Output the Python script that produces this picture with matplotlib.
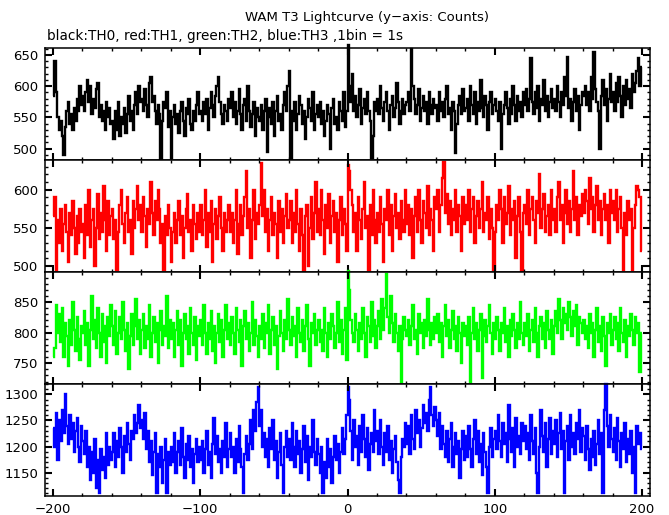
import numpy as np
import matplotlib
matplotlib.use("Agg")
import matplotlib.pyplot as plt
from matplotlib.ticker import MultipleLocator

# bordas dos bins (1 bin = 1 s)
tempo = np.arange(-200, 201)

# contagens, 20 bins por linha
th0 = [
    585, 640, 590, 550, 530, 545, 520, 490, 535, 560, 575, 540, 555, 530, 565, 545, 580, 560, 600, 570,
    585, 560, 590, 610, 575, 600, 555, 580, 565, 595, 605, 550, 570, 545, 560, 530, 575, 550, 565, 540,
    545, 515, 560, 530, 575, 520, 550, 540, 565, 525, 555, 585, 545, 560, 530, 570, 590, 555, 600, 575,
    580, 560, 595, 570, 550, 605, 615, 575, 585, 560, 540, 570, 555, 483, 545, 575, 565, 590, 535, 560,
    485, 550, 570, 540, 555, 525, 560, 575, 545, 520, 565, 555, 580, 540, 530, 560, 545, 570, 590, 555,
    560, 545, 575, 555, 580, 530, 565, 590, 570, 550, 585, 600, 615, 575, 555, 540, 570, 560, 545, 580,
    565, 590, 550, 575, 540, 560, 595, 555, 530, 570, 580, 545, 600, 560, 535, 555, 575, 520, 565, 550,
    545, 570, 530, 560, 580, 495, 550, 565, 540, 575, 520, 560, 585, 545, 555, 530, 570, 590, 560, 600,
    625, 482, 560, 545, 575, 530, 555, 585, 570, 540, 560, 515, 550, 580, 565, 545, 590, 530, 555, 570,
    550, 575, 540, 560, 520, 545, 570, 555, 500, 565, 580, 540, 550, 530, 575, 560, 545, 590, 535, 560,
    665, 600, 575, 620, 560, 585, 550, 570, 595, 540, 565, 580, 555, 590, 560, 545, 485, 520, 575, 560,
    580, 555, 600, 565, 545, 575, 590, 560, 530, 570, 585, 550, 565, 605, 575, 540, 560, 580, 555, 570,
    575, 590, 560, 660, 600, 580, 555, 570, 595, 545, 565, 585, 560, 575, 540, 590, 570, 555, 580, 565,
    570, 545, 590, 560, 575, 550, 580, 600, 555, 565, 530, 575, 560, 493, 540, 570, 585, 555, 595, 560,
    565, 580, 545, 600, 570, 555, 590, 540, 575, 560, 610, 565, 550, 585, 570, 530, 575, 590, 555, 570,
    580, 560, 545, 575, 500, 555, 570, 590, 565, 540, 580, 555, 600, 570, 545, 585, 560, 575, 550, 590,
    570, 595, 560, 580, 645, 575, 555, 590, 565, 600, 545, 580, 570, 610, 560, 585, 550, 575, 595, 565,
    580, 560, 600, 575, 550, 590, 570, 615, 585, 647, 565, 580, 545, 575, 595, 560, 585, 530, 570, 590,
    585, 600, 570, 590, 560, 615, 580, 655, 595, 575, 560, 500, 585, 610, 570, 595, 545, 580, 620, 575,
    590, 560, 605, 575, 615, 585, 550, 600, 570, 610, 580, 595, 565, 620, 590, 605, 625, 645, 600, 630,
]

th1 = [
    565, 590, 495, 560, 530, 575, 520, 555, 580, 545, 505, 570, 540, 585, 550, 515, 565, 530, 575, 545,
    555, 510, 580, 540, 600, 525, 560, 575, 500, 550, 595, 535, 570, 545, 605, 560, 520, 585, 540, 565,
    575, 535, 560, 495, 545, 580, 600, 555, 530, 570, 590, 545, 560, 515, 585, 550, 575, 605, 560, 580,
    545, 590, 565, 525, 575, 555, 610, 570, 540, 585, 560, 600, 575, 530, 555, 495, 565, 540, 580, 550,
    505, 545, 570, 530, 560, 585, 540, 565, 510, 550, 575, 595, 545, 560, 520, 580, 555, 535, 570, 545,
    580, 540, 560, 600, 525, 570, 545, 585, 505, 555, 575, 535, 565, 590, 550, 520, 570, 545, 560, 580,
    545, 570, 530, 560, 600, 515, 555, 580, 540, 565, 590, 625, 550, 575, 510, 560, 600, 535, 570, 555,
    580, 635, 565, 600, 545, 575, 520, 560, 590, 540, 570, 555, 510, 585, 545, 575, 530, 565, 595, 550,
    560, 585, 530, 570, 545, 600, 555, 520, 575, 540, 493, 565, 580, 500, 550, 590, 535, 570, 610, 545,
    575, 540, 600, 560, 515, 580, 550, 595, 530, 565, 585, 545, 570, 505, 560, 590, 540, 575, 555, 520,
    632, 625, 600, 580, 545, 570, 520, 590, 560, 535, 575, 610, 550, 565, 495, 580, 540, 600, 560, 530,
    570, 545, 590, 555, 505, 575, 560, 600, 540, 580, 520, 565, 595, 550, 570, 535, 585, 560, 545, 600,
    555, 580, 540, 575, 510, 565, 590, 545, 600, 560, 530, 585, 570, 550, 605, 540, 575, 560, 520, 590,
    575, 600, 545, 580, 615, 636, 570, 595, 555, 585, 540, 575, 560, 600, 545, 580, 565, 520, 590, 555,
    580, 560, 600, 545, 575, 590, 530, 565, 585, 550, 575, 610, 545, 570, 560, 590, 535, 575, 550, 495,
    545, 580, 560, 600, 575, 530, 590, 555, 570, 605, 540, 575, 560, 585, 510, 565, 590, 545, 492, 570,
    580, 555, 600, 540, 575, 590, 560, 530, 585, 570, 620, 550, 575, 595, 545, 565, 580, 540, 600, 560,
    575, 545, 590, 610, 560, 580, 530, 570, 600, 555, 585, 545, 575, 625, 560, 590, 540, 580, 565, 595,
    570, 600, 585, 555, 615, 575, 590, 545, 580, 605, 560, 585, 540, 575, 595, 560, 580, 530, 600, 570,
    585, 560, 600, 545, 575, 590, 550, 495, 570, 540, 585, 560, 575, 495, 550, 580, 605, 600, 590, 520,
]

th2 = [
    760, 775, 845, 800, 830, 785, 840, 760, 815, 795, 745, 820, 780, 850, 805, 770, 825, 790, 755, 810,
    800, 835, 780, 815, 745, 805, 860, 790, 820, 775, 840, 800, 760, 830, 785, 810, 750, 825, 795, 845,
    810, 780, 835, 765, 800, 825, 790, 850, 805, 770, 815, 740, 795, 830, 780, 810, 855, 790, 820, 765,
    805, 830, 775, 810, 790, 845, 760, 800, 825, 785, 815, 750, 805, 835, 780, 810, 795, 860, 775, 820,
    790, 815, 760, 805, 835, 780, 820, 745, 800, 830, 790, 810, 765, 840, 800, 780, 825, 755, 810, 795,
    820, 780, 845, 800, 765, 815, 790, 835, 770, 810, 750, 800, 830, 785, 820, 760, 805, 845, 790, 815,
    780, 825, 800, 765, 840, 805, 785, 820, 745, 810, 835, 790, 815, 770, 800, 850, 780, 820, 795, 760,
    810, 790, 830, 775, 815, 800, 845, 765, 805, 825, 780, 810, 740, 795, 835, 800, 770, 820, 790, 855,
    805, 780, 825, 795, 810, 760, 840, 800, 785, 820, 770, 810, 845, 790, 745, 815, 800, 830, 780, 805,
    820, 785, 805, 770, 840, 800, 760, 815, 790, 830, 810, 775, 800, 850, 785, 820, 765, 805, 840, 755,
    900, 870, 820, 800, 785, 830, 805, 770, 815, 790, 840, 800, 760, 825, 810, 785, 850, 795, 820, 775,
    810, 835, 790, 855, 805, 840, 895, 825, 800, 860, 815, 785, 830, 800, 770, 810, 720, 790, 825, 805,
    795, 820, 780, 810, 845, 790, 805, 765, 830, 800, 815, 775, 820, 795, 855, 805, 780, 815, 790, 825,
    800, 830, 785, 815, 760, 810, 845, 795, 820, 775, 805, 835, 790, 810, 770, 825, 800, 750, 815, 795,
    810, 780, 825, 720, 800, 840, 790, 815, 770, 805, 830, 725, 795, 820, 785, 810, 845, 800, 765, 815,
    790, 825, 805, 770, 815, 800, 840, 785, 810, 760, 820, 795, 830, 805, 775, 815, 790, 850, 800, 780,
    815, 795, 830, 770, 805, 820, 785, 840, 800, 760, 810, 825, 790, 815, 775, 835, 805, 790, 820, 765,
    810, 835, 800, 855, 820, 790, 840, 815, 830, 805, 850, 825, 795, 835, 810, 845, 780, 825, 815, 800,
    820, 790, 810, 775, 830, 800, 815, 760, 805, 840, 785, 810, 770, 825, 795, 745, 815, 800, 830, 780,
    805, 825, 790, 815, 770, 840, 800, 785, 820, 760, 810, 795, 830, 805, 780, 825, 800, 815, 735, 800,
]

th3 = [
    1235, 1200, 1265, 1175, 1250, 1210, 1270, 1225, 1300, 1240, 1205, 1260, 1215, 1245, 1190, 1230, 1255, 1200, 1170, 1240,
    1210, 1185, 1230, 1160, 1200, 1135, 1190, 1150, 1215, 1120, 1175, 1110, 1195, 1155, 1180, 1140, 1225, 1165, 1200, 1175,
    1190, 1225, 1160, 1210, 1180, 1235, 1200, 1150, 1220, 1190, 1245, 1205, 1175, 1230, 1215, 1260, 1225, 1245, 1280, 1235,
    1250, 1215, 1265, 1195, 1230, 1170, 1210, 1145, 1190, 1225, 1110, 1185, 1160, 1200, 1130, 1175, 1215, 1110, 1190, 1165,
    1200, 1170, 1225, 1150, 1190, 1210, 1165, 1235, 1180, 1140, 1205, 1175, 1220, 1160, 1195, 1130, 1185, 1215, 1170, 1200,
    1175, 1210, 1150, 1195, 1230, 1165, 1190, 1140, 1205, 1255, 1185, 1220, 1170, 1195, 1150, 1210, 1180, 1245, 1160, 1195,
    1225, 1180, 1200, 1150, 1215, 1170, 1240, 1195, 1160, 1110, 1185, 1220, 1175, 1205, 1250, 1195, 1270, 1230, 1285, 1315,
    1240, 1270, 1200, 1225, 1180, 1215, 1160, 1235, 1195, 1250, 1175, 1210, 1140, 1190, 1225, 1165, 1110, 1200, 1230, 1180,
    1215, 1175, 1245, 1200, 1160, 1230, 1185, 1210, 1150, 1195, 1240, 1170, 1220, 1135, 1200, 1180, 1250, 1190, 1165, 1215,
    1185, 1150, 1200, 1110, 1170, 1140, 1215, 1160, 1195, 1130, 1180, 1220, 1175, 1205, 1150, 1190, 1235, 1185, 1215, 1260,
    1315, 1290, 1230, 1175, 1250, 1200, 1220, 1165, 1240, 1190, 1260, 1215, 1180, 1235, 1155, 1205, 1225, 1190, 1270, 1210,
    1230, 1185, 1250, 1200, 1165, 1225, 1190, 1240, 1175, 1210, 1150, 1195, 1220, 1170, 1135, 1110, 1180, 1215, 1200, 1245,
    1205, 1240, 1185, 1260, 1215, 1195, 1270, 1225, 1250, 1200, 1235, 1280, 1245, 1265, 1230, 1290, 1315, 1260, 1240, 1275,
    1250, 1220, 1265, 1195, 1240, 1205, 1180, 1230, 1170, 1215, 1245, 1160, 1200, 1225, 1185, 1210, 1140, 1195, 1230, 1175,
    1220, 1180, 1240, 1195, 1160, 1215, 1250, 1185, 1230, 1170, 1205, 1145, 1225, 1190, 1160, 1110, 1200, 1235, 1180, 1215,
    1230, 1195, 1260, 1210, 1180, 1245, 1205, 1225, 1170, 1280, 1215, 1190, 1235, 1160, 1255, 1200, 1220, 1185, 1245, 1210,
    1240, 1195, 1225, 1175, 1260, 1210, 1185, 1235, 1150, 1110, 1200, 1270, 1220, 1190, 1245, 1160, 1215, 1255, 1185, 1230,
    1205, 1250, 1180, 1225, 1265, 1195, 1230, 1110, 1210, 1240, 1175, 1260, 1200, 1225, 1185, 1245, 1215, 1270, 1190, 1235,
    1220, 1175, 1240, 1195, 1155, 1215, 1180, 1230, 1165, 1205, 1250, 1185, 1225, 1110, 1270, 1320, 1240, 1200, 1260, 1215,
    1190, 1235, 1175, 1255, 1210, 1160, 1225, 1195, 1245, 1170, 1215, 1185, 1230, 1150, 1200, 1110, 1240, 1205, 1225, 1195,
]

canais = [th0, th1, th2, th3]
cores = ['black', '#ff0000', '#00ff00', '#0000ff']
limites_y = [(482, 661), (492, 639), (716, 899), (1105, 1320)]

fig, axs = plt.subplots(4, 1, sharex=True, figsize=(6.69, 5.15), dpi=100)
fig.subplots_adjust(left=0.0673, right=0.9716, top=0.9068, bottom=0.0369, hspace=0)

for ax, dados, cor, lim in zip(axs, canais, cores, limites_y):
    ax.stairs(dados, tempo, baseline=None, color=cor, linewidth=1.7, clip_on=False)
    ax.set_ylim(lim)
    ax.yaxis.set_major_locator(MultipleLocator(50))
    ax.yaxis.set_minor_locator(MultipleLocator(10))
    ax.xaxis.set_major_locator(MultipleLocator(100))
    ax.xaxis.set_minor_locator(MultipleLocator(20))
    ax.tick_params(which='both', direction='in', top=True, right=True, labelsize=9.5, pad=5)
    ax.tick_params(which='major', length=5, width=1.5)
    ax.tick_params(which='minor', length=2.5, width=1)
    for s in ax.spines.values():
        s.set_linewidth(1.1)

axs[-1].set_xlim(-205.4, 205.4)

fig.text(367 / 669, 1 - 18 / 515, 'WAM T3 Lightcurve (y\u2212axis: Counts)',
         ha='center', va='center', fontsize=9.5)
fig.text(47 / 669, 1 - 36 / 515, 'black:TH0, red:TH1, green:TH2, blue:TH3 ,1bin = 1s',
         ha='left', va='center', fontsize=9.8)

fig.savefig('out.png', dpi=100)
